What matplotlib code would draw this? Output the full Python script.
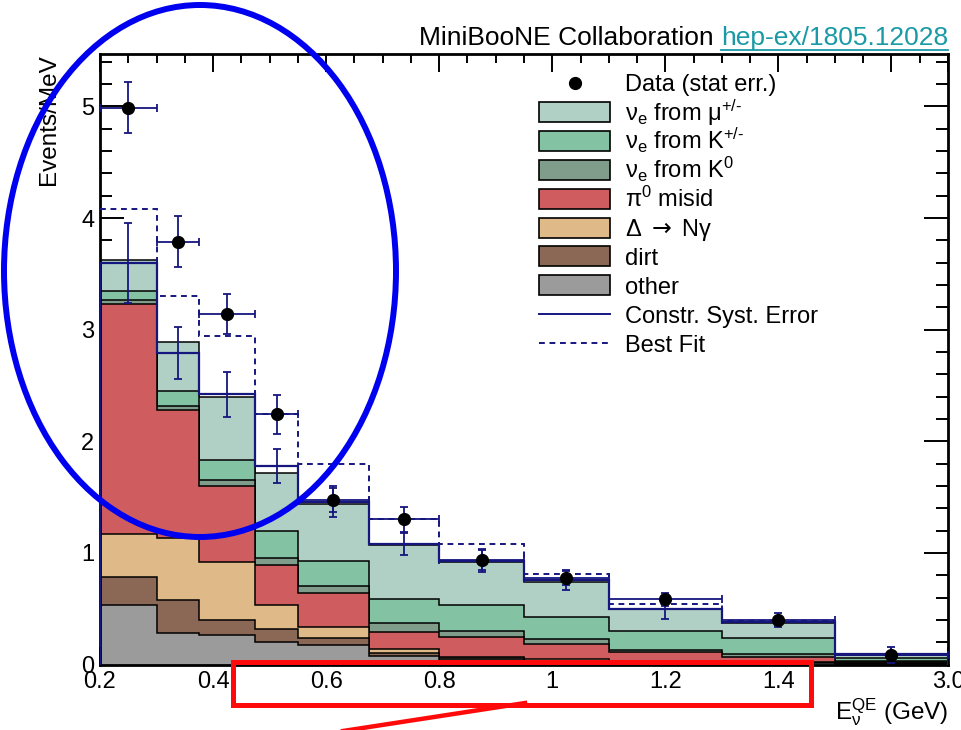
"""
MiniBooNE nu_e 低能超出 —— 堆叠直方图复现
(E_nu^QE 分布, 最后一个分箱 1.5-3.0 GeV 压缩显示)
"""

import numpy as np
import matplotlib
matplotlib.use("Agg")
import matplotlib.pyplot as plt
from matplotlib.lines import Line2D
from matplotlib.patches import Ellipse, Rectangle

plt.rcParams["font.family"] = ["Liberation Sans", "DejaVu Sans"]
plt.rcParams["mathtext.fontset"] = "custom"
plt.rcParams["mathtext.rm"] = "Liberation Sans"
plt.rcParams["mathtext.it"] = "Liberation Sans"
plt.rcParams["mathtext.bf"] = "Liberation Sans:bold"
plt.rcParams["mathtext.sf"] = "DejaVu Sans"

# ============================================================
# 0. 数据 (Events/MeV)
# ============================================================
bin_edges = [0.2, 0.3, 0.375, 0.475, 0.55, 0.675, 0.8, 0.95, 1.1, 1.3, 1.5, 3.0]

# 各本底成分 (自下而上堆叠)
other = [0.53, 0.28, 0.265, 0.20, 0.175, 0.08, 0.04, 0.025, 0.015, 0.01, 0.005]
dirt = [0.25, 0.30, 0.135, 0.12, 0.06, 0.025, 0.015, 0.01, 0.005, 0.005, 0.003]
delta_ngamma = [0.39, 0.55, 0.52, 0.21, 0.105, 0.03, 0.015, 0.01, 0.01, 0.005, 0.002]
pi0_misid = [2.06, 1.15, 0.68, 0.36, 0.30, 0.155, 0.18, 0.14, 0.08, 0.05, 0.015]
nue_k0 = [0.04, 0.04, 0.05, 0.065, 0.06, 0.08, 0.05, 0.04, 0.02, 0.025, 0.01]
nue_kpm = [0.08, 0.13, 0.18, 0.24, 0.23, 0.215, 0.23, 0.205, 0.17, 0.14, 0.025]
nue_mu = [0.27, 0.44, 0.57, 0.52, 0.51, 0.485, 0.39, 0.31, 0.20, 0.135, 0.025]

data = [4.99, 3.79, 3.14, 2.24, 1.475, 1.30, 0.94, 0.775, 0.585, 0.40, 0.085]
data_err = [0.225, 0.225, 0.18, 0.175, 0.105, 0.11, 0.09, 0.065, 0.06, 0.06, 0.07]

syst = [3.60, 2.79, 2.42, 1.78, 1.46, 1.08, 0.93, 0.755, 0.50, 0.38, 0.09]
syst_err = [0.36, 0.235, 0.20, 0.15, 0.14, 0.10, 0.105, 0.09, 0.09, 0.03, 0.01]

best_fit = [4.08, 3.30, 2.94, 2.24, 1.80, 1.30, 1.08, 0.81, 0.54, 0.39, 0.09]

components = [
    ("other", other, "#9b9b9b"),
    ("dirt", dirt, "#8b6756"),
    (r"Δ $\mathsf{\rightarrow}$ Nγ", delta_ngamma, "#dfb987"),
    (r"π$^{0}$ misid", pi0_misid, "#cf5c5e"),
    (r"ν$_{e}$ from K$^{0}$", nue_k0, "#809d8b"),
    (r"ν$_{e}$ from K$^{\text{+/-}}$", nue_kpm, "#83c3a3"),
    (r"ν$_{e}$ from μ$^{\text{+/-}}$", nue_mu, "#b0d0c6"),
]

NAVY = "#16167f"
TEAL = "#1a9aa6"
DASH = (0, (3, 2.4))


# ============================================================
# 1. 压缩 x 轴: 1.5-3.0 GeV 显示宽度等于 0.2 GeV
# ============================================================
def fwd(x):
    x = np.asarray(x, dtype=float)
    return np.where(x <= 1.5, x, 1.5 + (x - 1.5) * 0.2 / 1.5)


def inv(d):
    d = np.asarray(d, dtype=float)
    return np.where(d <= 1.5, d, 1.5 + (d - 1.5) * 1.5 / 0.2)


W, H = 961, 730


def px(x, y):
    """像素坐标 (左上为原点) -> figure 坐标"""
    return x / W, 1 - y / H


# ============================================================
# 2. 绘图
# ============================================================
fig = plt.figure(figsize=(W / 100, H / 100), dpi=100)
ax = fig.add_axes([100 / W, 1 - 664.5 / H, 848 / W, 610.5 / H])
ax.set_xscale("function", functions=(fwd, inv))

edges = np.array(bin_edges)
centers = (edges[:-1] + edges[1:]) / 2
half_w = (edges[1:] - edges[:-1]) / 2

# 堆叠: 从总和开始往下画, 每层覆盖上一层
cum = np.cumsum([np.array(c[1]) for c in components], axis=0)
for k in range(len(components) - 1, -1, -1):
    ax.stairs(cum[k], edges, baseline=0, fill=True,
              facecolor=components[k][2], edgecolor="black", lw=1.1, zorder=2)

# 最佳拟合 (虚线) 与约束系统误差
ax.stairs(best_fit, edges, baseline=None, color=NAVY, lw=1.4,
          linestyle=DASH, zorder=3)
ax.stairs(syst, edges, baseline=0, color=NAVY, lw=1.6, zorder=4)
ax.errorbar(centers, syst, yerr=syst_err, fmt="none", ecolor=NAVY,
            elinewidth=1.3, capsize=3, capthick=1.3, zorder=4)

# 数据点
ax.errorbar(centers, data, xerr=half_w, yerr=data_err, fmt="o",
            color="black", markersize=8.5, ecolor=NAVY, elinewidth=1.3,
            capsize=3, capthick=1.3, zorder=6)

ax.set_xlim(0.2, 3.0)
ax.set_ylim(0, 5.47)

# 刻度 (ROOT 风格: 四边朝内)
major_disp = np.append(np.round(np.arange(0.2, 1.61, 0.2), 2), 1.7)
minor_disp = np.round(np.arange(0.25, 1.7, 0.05), 3)
minor_disp = [m for m in minor_disp if not np.any(np.isclose(m, major_disp))]
ax.set_xticks(inv(major_disp))
ax.set_xticklabels(["0.2", "0.4", "0.6", "0.8", "1", "1.2", "1.4", "", "3.0"])
ax.set_xticks(inv(minor_disp), minor=True)
ax.set_yticks(np.arange(0, 6))
ax.set_yticks(np.arange(0, 5.47, 0.2), minor=True)

ax.set_axisbelow(True)
ax.tick_params(axis="both", which="both", direction="in", top=True,
               right=True, labelsize=17, width=1.4, colors="black")
ax.tick_params(axis="x", which="major", length=12.7, pad=5)
ax.tick_params(axis="x", which="minor", length=6.5)
ax.tick_params(axis="y", which="major", length=17.5, pad=4)
ax.tick_params(axis="y", which="minor", length=8.6)
for sp in ax.spines.values():
    sp.set_linewidth(2)

ax.set_ylabel("Events/MeV", fontsize=17.5, loc="top")
ax.yaxis.set_label_coords(-0.047, 1.0)
ax.set_xlabel(r"E$_{ν}^{\mathrm{QE}}$ (GeV)", fontsize=17.5, loc="right")
ax.xaxis.set_label_coords(1.0, -0.052)

# 图例 (手工排布, 行距固定)
row_y = 83
row_step = 28.9
fig.add_artist(Line2D(*[[v] for v in px(575, row_y)], marker="o",
                      color="black", markersize=8.5,
                      transform=fig.transFigure))
fig.text(*px(625, row_y + 8.5), "Data (stat err.)", fontsize=17,
         va="baseline")
for i, (name, _, col) in enumerate(components[::-1]):
    y = row_y + row_step * (i + 1)
    fig.add_artist(Rectangle(px(539, y + 10), 71 / W, 20 / H,
                             transform=fig.transFigure, facecolor=col,
                             edgecolor="black", lw=1.2))
    fig.text(*px(625, y + 8.5), name, fontsize=17, va="baseline")
for j, (name, ls) in enumerate([("Constr. Syst. Error", "-"),
                                ("Best Fit", DASH)]):
    y = row_y + row_step * (len(components) + 1 + j)
    x0, y0 = px(539, y)
    x1, _ = px(610, y)
    fig.add_artist(Line2D([x0, x1], [y0, y0], color=NAVY, lw=1.4,
                          linestyle=ls, transform=fig.transFigure))
    fig.text(*px(625, y + 8.5), name, fontsize=17, va="baseline")

# 顶部标题 (链接带下划线)
t_link = fig.text(*px(948, 45), "hep-ex/1805.12028", color=TEAL,
                  fontsize=19, ha="right", va="baseline")
renderer = fig.canvas.get_renderer()
bb = t_link.get_window_extent(renderer)
fig.text(bb.x0 / W, 1 - 45 / H, "MiniBooNE Collaboration ", color="black",
         fontsize=19, ha="right", va="baseline")
fig.add_artist(Line2D([bb.x0 / W, bb.x1 / W], [1 - 50 / H, 1 - 50 / H],
                      color=TEAL, lw=1.3, transform=fig.transFigure))

# 标注: 蓝色椭圆, 红色方框与连线
fig.add_artist(Ellipse(px(200, 271), 392 / W, 532 / H,
                       transform=fig.transFigure, fill=False,
                       edgecolor="#0000f0", lw=4.3, zorder=10))
fig.add_artist(Rectangle(px(233, 705), 578 / W, 43 / H,
                         transform=fig.transFigure, fill=False,
                         edgecolor="#ff0a0a", lw=3.6, zorder=10))
x0, y0 = px(525, 703)
x1, y1 = px(330, 733)
fig.add_artist(Line2D([x0, x1], [y0, y1], color="#ff0a0a", lw=3.2,
                      transform=fig.transFigure, zorder=10))

fig.savefig("out.png", dpi=100)
